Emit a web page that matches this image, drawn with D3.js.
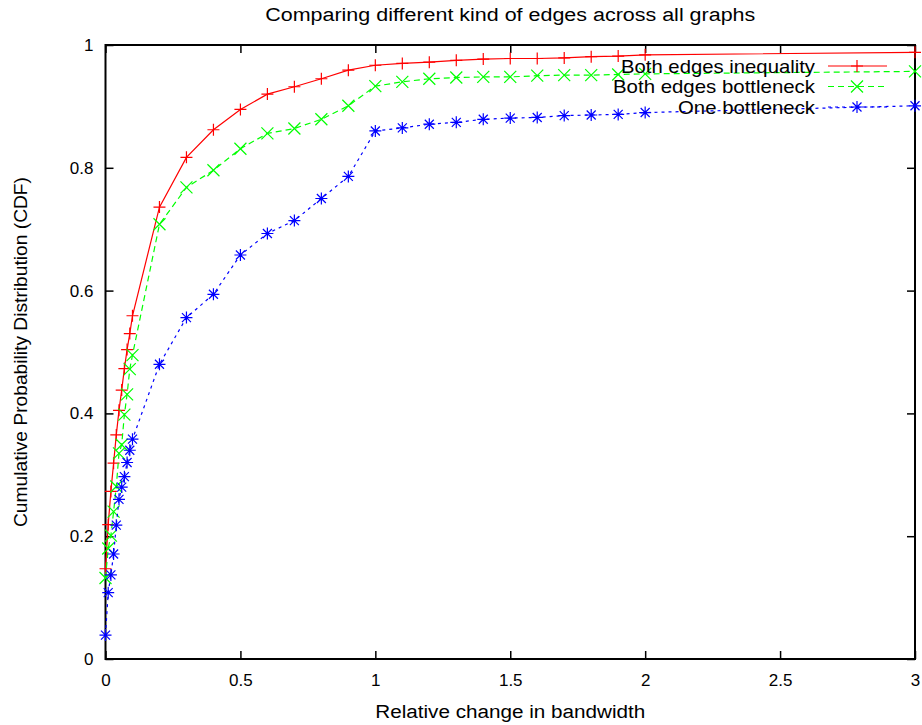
<!DOCTYPE html>
<html>
<head>
<meta charset="utf-8">
<script src="https://cdn.jsdelivr.net/npm/d3@7"></script>
<style>
  html, body { margin: 0; padding: 0; background: #fff; }
  svg { display: block; font-family: "Liberation Sans", Arial, Helvetica, sans-serif; }
</style>
</head>
<body>
<svg id="chart" width="922" height="725"></svg>
<script>
// Relative change in bandwidth (x positions of the CDF samples)
const xValues = [0, 0.01, 0.02, 0.03, 0.04, 0.05, 0.06, 0.07, 0.08, 0.09, 0.1,
  0.2, 0.3, 0.4, 0.5, 0.6, 0.7, 0.8, 0.9, 1.0,
  1.1, 1.2, 1.3, 1.4, 1.5, 1.6, 1.7, 1.8, 1.9, 2.0, 3.0];

// CDF values per series
const bothInequality = [0.147, 0.219, 0.273, 0.319, 0.365, 0.405, 0.438, 0.473, 0.504, 0.530, 0.559,
  0.736, 0.817, 0.862, 0.895, 0.920, 0.932, 0.945, 0.959, 0.967,
  0.970, 0.972, 0.975, 0.977, 0.978, 0.978, 0.979, 0.981, 0.982, 0.984, 0.988];
const bothBottleneck = [0.132, 0.180, 0.201, 0.240, 0.281, 0.335, 0.349, 0.398, 0.431, 0.472, 0.495,
  0.708, 0.768, 0.796, 0.831, 0.856, 0.864, 0.879, 0.901, 0.933,
  0.940, 0.945, 0.947, 0.948, 0.948, 0.950, 0.951, 0.951, 0.952, 0.953, 0.957];
const oneBottleneck = [0.039, 0.108, 0.137, 0.171, 0.218, 0.260, 0.280, 0.297, 0.320, 0.340, 0.358,
  0.480, 0.556, 0.594, 0.658, 0.693, 0.714, 0.750, 0.786, 0.860,
  0.865, 0.871, 0.874, 0.879, 0.881, 0.882, 0.885, 0.886, 0.887, 0.890, 0.901];

const seriesNames = ["Both edges inequality", "Both edges bottleneck", "One bottleneck"];
const seriesColors = ["#ff0000", "#00ff00", "#0000ff"];
const seriesDash = [null, "6,4", "3,4"];
const seriesMarker = ["plus", "cross", "star"];

const xTicks = [0, 0.5, 1, 1.5, 2, 2.5, 3];
const yTicks = [0, 0.2, 0.4, 0.6, 0.8, 1];

const titleText = "Comparing different kind of edges across all graphs";
const xLabelText = "Relative change in bandwidth";
const yLabelText = "Cumulative Probability Distribution (CDF)";

const svg = d3.select("#chart");
const margin = { left: 105.5, right: 7, top: 45, bottom: 66 };
const W = 922, H = 725;
const x = d3.scaleLinear().domain([0, 3]).range([margin.left, W - margin.right]);
const y = d3.scaleLinear().domain([0, 1]).range([H - margin.bottom, margin.top]);

// Axes with inward ticks on all four sides
const tickLen = 8;
svg.append("g").attr("transform", `translate(0,${y(0)})`)
  .call(d3.axisBottom(x).tickValues(xTicks).tickSize(-tickLen).tickPadding(15)
    .tickFormat(d => String(d)))
  .call(g => g.select(".domain").remove());
svg.append("g").attr("transform", `translate(0,${y(1)})`)
  .call(d3.axisTop(x).tickValues(xTicks).tickSize(-tickLen).tickFormat(""))
  .call(g => g.select(".domain").remove());
svg.append("g").attr("transform", `translate(${x(0)},0)`)
  .call(d3.axisLeft(y).tickValues(yTicks).tickSize(-tickLen).tickPadding(12)
    .tickFormat(d => String(d)))
  .call(g => g.select(".domain").remove());
svg.append("g").attr("transform", `translate(${x(3)},0)`)
  .call(d3.axisRight(y).tickValues(yTicks).tickSize(-tickLen).tickFormat(""))
  .call(g => g.select(".domain").remove());

svg.selectAll(".tick line").attr("stroke", "#000").attr("stroke-width", 1.5);
svg.selectAll(".tick text").attr("fill", "#000").style("font-size", "17px");

// Plot frame
svg.append("rect")
  .attr("x", x(0)).attr("y", y(1))
  .attr("width", x(3) - x(0)).attr("height", y(0) - y(1))
  .attr("fill", "none").attr("stroke", "#000").attr("stroke-width", 2);

// Marker shapes
function markerPath(type, s) {
  if (type === "plus") return `M${-s},0H${s}M0,${-s}V${s}`;
  if (type === "cross") return `M${-s},${-s}L${s},${s}M${-s},${s}L${s},${-s}`;
  const d = s * 0.75;
  return `M${-s},0H${s}M0,${-s}V${s}M${-d},${-d}L${d},${d}M${-d},${d}L${d},${-d}`;
}

const allSeries = [bothInequality, bothBottleneck, oneBottleneck];
const line = d3.line().x(d => x(d[0])).y(d => y(d[1]));

allSeries.forEach((vals, i) => {
  const pts = xValues.map((xv, k) => [xv, vals[k]]);
  svg.append("path")
    .datum(pts)
    .attr("d", line)
    .attr("fill", "none")
    .attr("stroke", seriesColors[i])
    .attr("stroke-width", 1.2)
    .attr("stroke-dasharray", seriesDash[i]);
  svg.append("g").selectAll("path")
    .data(pts)
    .join("path")
    .attr("transform", d => `translate(${x(d[0])},${y(d[1])})`)
    .attr("d", markerPath(seriesMarker[i], 6))
    .attr("fill", "none")
    .attr("stroke", seriesColors[i])
    .attr("stroke-width", 1.2);
});

// Legend (top right, inside the frame)
const legendRowY = [66, 86.5, 107];
const legendWidths = [194, 202, 137];
seriesNames.forEach((name, i) => {
  const ly = legendRowY[i];
  svg.append("text")
    .attr("x", 815).attr("y", ly).attr("dy", "0.36em")
    .attr("text-anchor", "end")
    .attr("textLength", legendWidths[i]).attr("lengthAdjust", "spacingAndGlyphs")
    .style("font-size", "19px")
    .text(name);
  svg.append("line")
    .attr("x1", 828).attr("x2", 887).attr("y1", ly).attr("y2", ly)
    .attr("stroke", seriesColors[i]).attr("stroke-width", 1.2)
    .attr("stroke-dasharray", seriesDash[i]);
  svg.append("path")
    .attr("transform", `translate(857,${ly})`)
    .attr("d", markerPath(seriesMarker[i], 6))
    .attr("fill", "none").attr("stroke", seriesColors[i]).attr("stroke-width", 1.2);
});

// Titles
svg.append("text")
  .attr("x", (x(0) + x(3)) / 2).attr("y", 21)
  .attr("text-anchor", "middle").style("font-size", "18px")
  .attr("textLength", 490).attr("lengthAdjust", "spacingAndGlyphs")
  .text(titleText);
svg.append("text")
  .attr("x", (x(0) + x(3)) / 2).attr("y", 718)
  .attr("text-anchor", "middle").style("font-size", "18px")
  .attr("textLength", 270).attr("lengthAdjust", "spacingAndGlyphs")
  .text(xLabelText);
svg.append("text")
  .attr("transform", `translate(27,${(y(0) + y(1)) / 2}) rotate(-90)`)
  .attr("text-anchor", "middle").style("font-size", "18px")
  .attr("textLength", 350).attr("lengthAdjust", "spacingAndGlyphs")
  .text(yLabelText);
</script>
</body>
</html>
